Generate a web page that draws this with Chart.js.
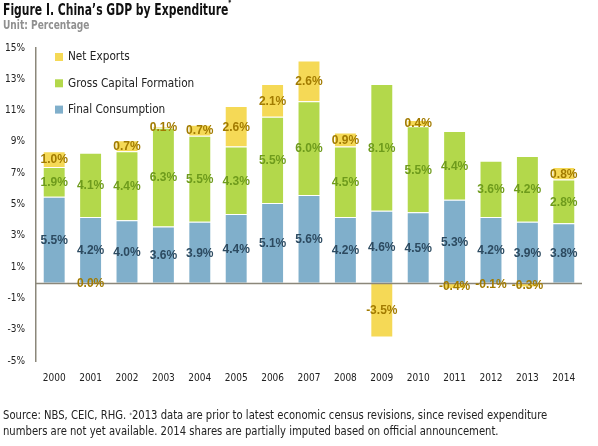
<!DOCTYPE html>
<html><head><meta charset="utf-8">
<script src="https://cdn.jsdelivr.net/npm/chart.js@4/dist/chart.umd.min.js"></script>
<style>
html,body{margin:0;padding:0;background:#fff;}
#wrap{position:relative;width:598px;height:446px;overflow:hidden;}
#c{position:absolute;left:0;top:0;}
.t{position:absolute;font-family:"DejaVu Sans Condensed","DejaVu Sans",sans-serif;white-space:nowrap;transform-origin:left top;}
#title{left:3px;top:1px;font-size:15px;font-weight:bold;color:#111;transform:scaleX(0.8);}
#title sup{font-size:8px;vertical-align:top;position:relative;top:-2px;}
#sub{left:3px;top:18px;font-size:12px;font-weight:bold;color:#909090;transform:scaleX(0.84);}
#foot{left:3px;top:407px;font-size:12px;color:#222;line-height:16px;transform:scaleX(0.93);}
#foot sup{font-size:6px;vertical-align:top;}
</style></head>
<body><div id="wrap"><canvas id="c" width="598" height="446"></canvas>
<div class="t" id="title">Figure I. China’s GDP by Expenditure<sup>*</sup></div>
<div class="t" id="sub">Unit: Percentage</div>
<div class="t" id="foot">Source: NBS, CEIC, RHG. <sup>*</sup>2013 data are prior to latest economic census revisions, since revised expenditure<br>numbers are not yet available. 2014 shares are partially imputed based on official announcement.</div>
</div>
<script>
const years = ['2000','2001','2002','2003','2004','2005','2006','2007','2008','2009','2010','2011','2012','2013','2014'];
const finalConsumption = [5.5,4.2,4.0,3.6,3.9,4.4,5.1,5.6,4.2,4.6,4.5,5.3,4.2,3.9,3.8];
const grossCapitalFormation = [1.9,4.1,4.4,6.3,5.5,4.3,5.5,6.0,4.5,8.1,5.5,4.4,3.6,4.2,2.8];
const netExports = [1.0,-0.01,0.7,0.1,0.7,2.6,2.1,2.6,0.9,-3.5,0.4,-0.4,-0.1,-0.3,0.8];
const yTicks = [-5,-3,-1,1,3,5,7,9,11,13,15];

const COND = '"DejaVu Sans Condensed","DejaVu Sans",sans-serif';

const labelColors = ['#2c4a60','#6e9b1c','#a27b00'];

const labelPlugin = {
  id: 'segLabels',
  afterDatasetsDraw(chart) {
    const ctx = chart.ctx;
    const y = chart.scales.y;
    const z = Math.round(y.getPixelForValue(0)) + 0.5;
    ctx.save();
    ctx.strokeStyle = '#8b877a';
    ctx.lineWidth = 1.5;
    ctx.beginPath();
    ctx.moveTo(chart.chartArea.left, z);
    ctx.lineTo(chart.chartArea.right, z);
    ctx.stroke();
    ctx.font = 'bold 12px "Liberation Sans", Arial, sans-serif';
    ctx.textAlign = 'center';
    ctx.textBaseline = 'middle';
    chart.data.datasets.forEach((ds, di) => {
      const meta = chart.getDatasetMeta(di);
      meta.data.forEach((el, i) => {
        const v = ds.data[i];
        let s = v.toFixed(1);
        if (s === '-0.0') s = '0.0';
        const cy = (el.y + el.base) / 2;
        ctx.fillStyle = labelColors[di];
        ctx.fillText(s + '%', el.x, cy + 1);
      });
    });
    ctx.restore();
  },
  afterDraw(chart) {
    const ctx = chart.ctx;
    const a = chart.chartArea;
    ctx.save();
    ctx.font = '13px ' + COND;
    ctx.textBaseline = 'middle';
    ctx.textAlign = 'left';
    const items = chart.data.datasets.slice().reverse();
    items.forEach((ds, k) => {
      const cy = a.top + 9 + k * 26.3;
      ctx.fillStyle = ds.backgroundColor;
      ctx.fillRect(a.left + 19, cy - 4, 8, 8);
      ctx.fillStyle = '#222';
      ctx.save();
      ctx.translate(a.left + 32, cy);
      ctx.scale(0.9, 1);
      ctx.fillText(ds.label, 0, 0);
      ctx.restore();
    });
    ctx.restore();
  }
};

new Chart(document.getElementById('c'), {
  type: 'bar',
  data: {
    labels: years,
    datasets: [
      { label: 'Final Consumption', data: finalConsumption, backgroundColor: '#80afcb' },
      { label: 'Gross Capital Formation', data: grossCapitalFormation, backgroundColor: '#b3d84b' },
      { label: 'Net Exports', data: netExports, backgroundColor: '#f5d956' }
    ]
  },
  options: {
    responsive: false,
    devicePixelRatio: 1,
    animation: false,
    layout: { padding: { left: 0, right: 16, top: 48, bottom: 60 } },
    datasets: { bar: { barPercentage: 0.63, categoryPercentage: 1, borderWidth: 1, borderColor: 'rgba(255,255,255,0.55)' } },
    plugins: { legend: { display: false }, tooltip: { enabled: false }, title: { display: false } },
    scales: {
      x: {
        stacked: true,
        grid: { display: false, drawTicks: false },
        border: { display: false },
        ticks: { color: '#222', font: { family: COND, size: 10 }, padding: 11, autoSkip: false, maxRotation: 0 },
        afterFit(s) { s.height = 25; }
      },
      y: {
        stacked: true,
        min: -5, max: 15,
        grid: { display: false, drawTicks: false },
        border: { display: true, color: '#8b877a', width: 1.5 },
        ticks: { color: '#222', font: { family: COND, size: 10 }, padding: 11, callback: v => v + '%' },
        afterBuildTicks(s) { s.ticks = yTicks.map(v => ({ value: v })); },
        afterFit(s) { s.width = 36; }
      }
    }
  },
  plugins: [labelPlugin]
});
</script>
</body></html>
